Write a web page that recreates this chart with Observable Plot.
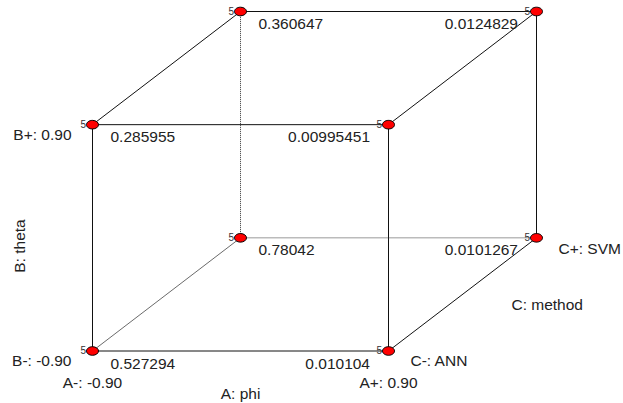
<!DOCTYPE html>
<html>
<head>
<meta charset="utf-8">
<script src="https://cdn.jsdelivr.net/npm/d3@7"></script>
<script src="https://cdn.jsdelivr.net/npm/@observablehq/plot@0.6"></script>
<style>
  html, body { margin: 0; padding: 0; background: #fff; }
  svg { display: block; }
</style>
</head>
<body>
<div id="chart"></div>
<script>
// Coded factor levels for the 8 cube corners
const aLevel = [-1, 1, -1, 1, -1, 1, -1, 1];   // A: phi
const bLevel = [-1, -1, 1, 1, -1, -1, 1, 1];   // B: theta
const cLevel = [-1, -1, -1, -1, 1, 1, 1, 1];   // C: method
const responses = ["0.527294", "0.010104", "0.285955", "0.00995451",
                   "0.78042", "0.0101267", "0.360647", "0.0124829"];
const runs = [5, 5, 5, 5, 5, 5, 5, 5];

// Factor labels
const factorNames = ["A: phi", "B: theta", "C: method"];
const lowLabels = ["A-: -0.90", "B-: -0.90", "C-: ANN"];
const highLabels = ["A+: 0.90", "B+: 0.90", "C+: SVM"];

// Oblique projection of the cube (depth shifts up-right)
const proj = (a, b, c) => ({px: a + (c + 1) / 2, py: b + (c + 1) / 2});
const corners = aLevel.map((a, i) => ({
  a, b: bLevel[i], c: cLevel[i], value: responses[i], n: runs[i],
  ...proj(a, bLevel[i], cLevel[i])
}));
const isHidden = (p) => p.a === -1 && p.b === -1 && p.c === 1;

const edges = [];
for (let i = 0; i < corners.length; i++) {
  for (let j = i + 1; j < corners.length; j++) {
    const p = corners[i], q = corners[j];
    const diff = (p.a !== q.a) + (p.b !== q.b) + (p.c !== q.c);
    if (diff !== 1) continue;
    let kind = "solid";
    if (isHidden(p) || isHidden(q)) kind = (p.c !== q.c) ? "depth" : "dotted";
    edges.push({x1: p.px, y1: p.py, x2: q.px, y2: q.py, kind});
  }
}

const ellipse = {
  draw(ctx) {
    const rx = 6, ry = 4.3, k = 0.5523;
    ctx.moveTo(rx, 0);
    ctx.bezierCurveTo(rx, k * ry, k * rx, ry, 0, ry);
    ctx.bezierCurveTo(-k * rx, ry, -rx, k * ry, -rx, 0);
    ctx.bezierCurveTo(-rx, -k * ry, -k * rx, -ry, 0, -ry);
    ctx.bezierCurveTo(k * rx, -ry, rx, -k * ry, rx, 0);
    ctx.closePath();
  }
};

const txt = "#222";
const fs = 15.5;

const factorText = [
  // B levels (left of front-left edge)
  {x: -1, y: 1, t: highLabels[1], anchor: "end", dx: -21, dy: 15.3},
  {x: -1, y: -1, t: lowLabels[1], anchor: "end", dx: -21, dy: 15.3},
  // A levels (below front-bottom corners)
  {x: -1, y: -1, t: lowLabels[0], anchor: "middle", dx: 0, dy: 37},
  {x: 1, y: -1, t: highLabels[0], anchor: "middle", dx: 0, dy: 37},
  {x: 0, y: -1, t: factorNames[0], anchor: "middle", dx: 0, dy: 47.5},
  // C levels (right of right depth edge)
  {x: 1, y: -1, t: lowLabels[2], anchor: "start", dx: 22, dy: 15.3},
  {x: 2, y: 0, t: highLabels[2], anchor: "start", dx: 22, dy: 15.7},
  {x: 1.5, y: -0.5, t: factorNames[2], anchor: "middle", dx: 84.7, dy: 15.6}
];

const linkOpts = {x1: "x1", y1: "y1", x2: "x2", y2: "y2"};

const chart = Plot.plot({
  width: 623,
  height: 403,
  style: {fontFamily: "'Liberation Sans', Arial, sans-serif", background: "#fff"},
  x: {domain: [-1, 2], range: [92, 536], axis: null},
  y: {domain: [-1, 2], range: [350.5, 11], axis: null},
  marks: [
    Plot.link(edges.filter(d => d.kind === "solid"), {...linkOpts, stroke: "#111", strokeWidth: 1}),
    Plot.link(edges.filter(d => d.kind === "dotted"), {...linkOpts, stroke: "#333", strokeWidth: 1, strokeDasharray: "1,1"}),
    Plot.link(edges.filter(d => d.kind === "depth"), {...linkOpts, stroke: "#444", strokeWidth: 0.8}),
    Plot.text(corners, {x: "px", y: "py", text: d => String(d.n), textAnchor: "end", dx: -6.5, fontSize: 10, fill: "#333"}),
    Plot.dot(corners, {x: "px", y: "py", symbol: ellipse, fill: "#ff0000", stroke: "#000", strokeWidth: 1}),
    Plot.text(corners.filter(d => d.a === -1), {x: "px", y: "py", text: "value", textAnchor: "start", dx: 18, dy: 17.5, lineAnchor: "bottom", fontSize: fs, fill: txt}),
    Plot.text(corners.filter(d => d.a === 1), {x: "px", y: "py", text: "value", textAnchor: "end", dx: -18.5, dy: 17.5, lineAnchor: "bottom", fontSize: fs, fill: txt}),
    ...factorText.map(f => Plot.text([f], {x: "x", y: "y", text: "t", textAnchor: f.anchor, dx: f.dx, dy: f.dy, lineAnchor: "bottom", fontSize: fs, fill: txt})),
    Plot.text([{x: -1, y: 0, t: factorNames[1]}], {x: "x", y: "y", text: "t", rotate: -90, textAnchor: "middle", lineAnchor: "bottom", dx: -68, dy: 8.2, fontSize: fs, fill: txt})
  ]
});

document.getElementById("chart").append(chart);
</script>
</body>
</html>
